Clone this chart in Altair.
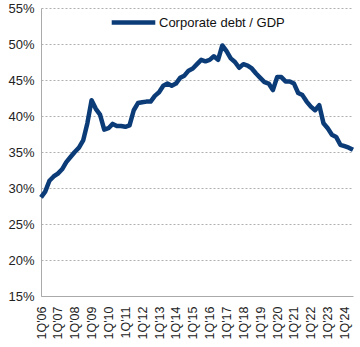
import altair as alt
import pandas as pd

years = [f"{y:02d}" for y in range(6, 25)]
quarters = [f"{q}Q'{y}" for y in years for q in range(1, 5)][:75]

values = [
    28.7, 29.5, 31.0, 31.6,   # 2006
    32.0, 32.6, 33.6, 34.3,   # 2007
    35.0, 35.6, 36.6, 39.0,   # 2008
    42.2, 41.0, 40.2, 38.1,   # 2009
    38.3, 38.9, 38.6, 38.6,   # 2010
    38.5, 38.7, 40.8, 41.8,   # 2011
    41.9, 42.0, 42.0, 42.8,   # 2012
    43.3, 44.2, 44.5, 44.2,   # 2013
    44.5, 45.3, 45.6, 46.3,   # 2014
    46.6, 47.2, 47.8, 47.6,   # 2015
    47.8, 48.3, 47.8, 49.8,   # 2016
    49.0, 48.0, 47.5, 46.7,   # 2017
    47.2, 47.0, 46.6, 45.9,   # 2018
    45.3, 44.7, 44.5, 43.6,   # 2019
    45.4, 45.4, 44.8, 44.8,   # 2020
    44.5, 43.2, 42.9, 42.0,   # 2021
    41.3, 40.8, 41.5, 39.0,   # 2022
    38.3, 37.4, 37.1, 36.0,   # 2023
    35.8, 35.6, 35.3,         # 2024
]

series_name = "Corporate debt / GDP"

df = pd.DataFrame({
    "quarter": quarters,
    "value": [v / 100 for v in values],
    "series": series_name,
})

chart = alt.Chart(df).mark_line(strokeWidth=4.5, strokeJoin="round").encode(
    x=alt.X(
        "quarter:O",
        sort=quarters,
        scale=alt.Scale(type="point", padding=0),
        axis=alt.Axis(
            title=None,
            labelAngle=270,
            labelAlign="right",
            labelBaseline="middle",
            labelExpr="indexof(datum.value, '1Q') == 0 ? datum.value : ''",
            labelFontSize=12.5,
            labelFont="Liberation Sans",
            labelColor="#222222",
            labelPadding=10,
            ticks=False,
            domainColor="#aaaaaa",
            labelOverlap=False,
            grid=False,
        ),
    ),
    y=alt.Y(
        "value:Q",
        scale=alt.Scale(domain=[0.15, 0.55], nice=False, zero=False),
        axis=alt.Axis(
            title=None,
            format=".0%",
            values=[0.15, 0.20, 0.25, 0.30, 0.35, 0.40, 0.45, 0.50, 0.55],
            labelFontSize=13,
            labelFont="Liberation Sans",
            labelColor="#222222",
            labelPadding=7,
            ticks=False,
            domainColor="#aaaaaa",
            gridColor="#b0b0b0",
            gridDash=[2, 2],
            gridWidth=1,
        ),
    ),
    color=alt.Color(
        "series:N",
        scale=alt.Scale(range=["#0b3c78"]),
        legend=alt.Legend(
            title=None,
            orient="none",
            legendX=68,
            legendY=-10,
            symbolType="stroke",
            symbolSize=1900,
            symbolStrokeWidth=4.5,
            labelFontSize=13,
            labelFont="Liberation Sans",
            labelColor="#111111",
            labelOffset=1,
            padding=0,
            labelLimit=300,
        ),
    ),
).properties(
    width=312,
    height=288,
    padding={"left": 41, "top": 8, "right": 7, "bottom": 51},
    autosize=alt.AutoSizeParams(type="none"),
    background="white",
).configure_view(stroke=None)

chart.save("out.html", embed_options={"renderer": "svg", "actions": False})
